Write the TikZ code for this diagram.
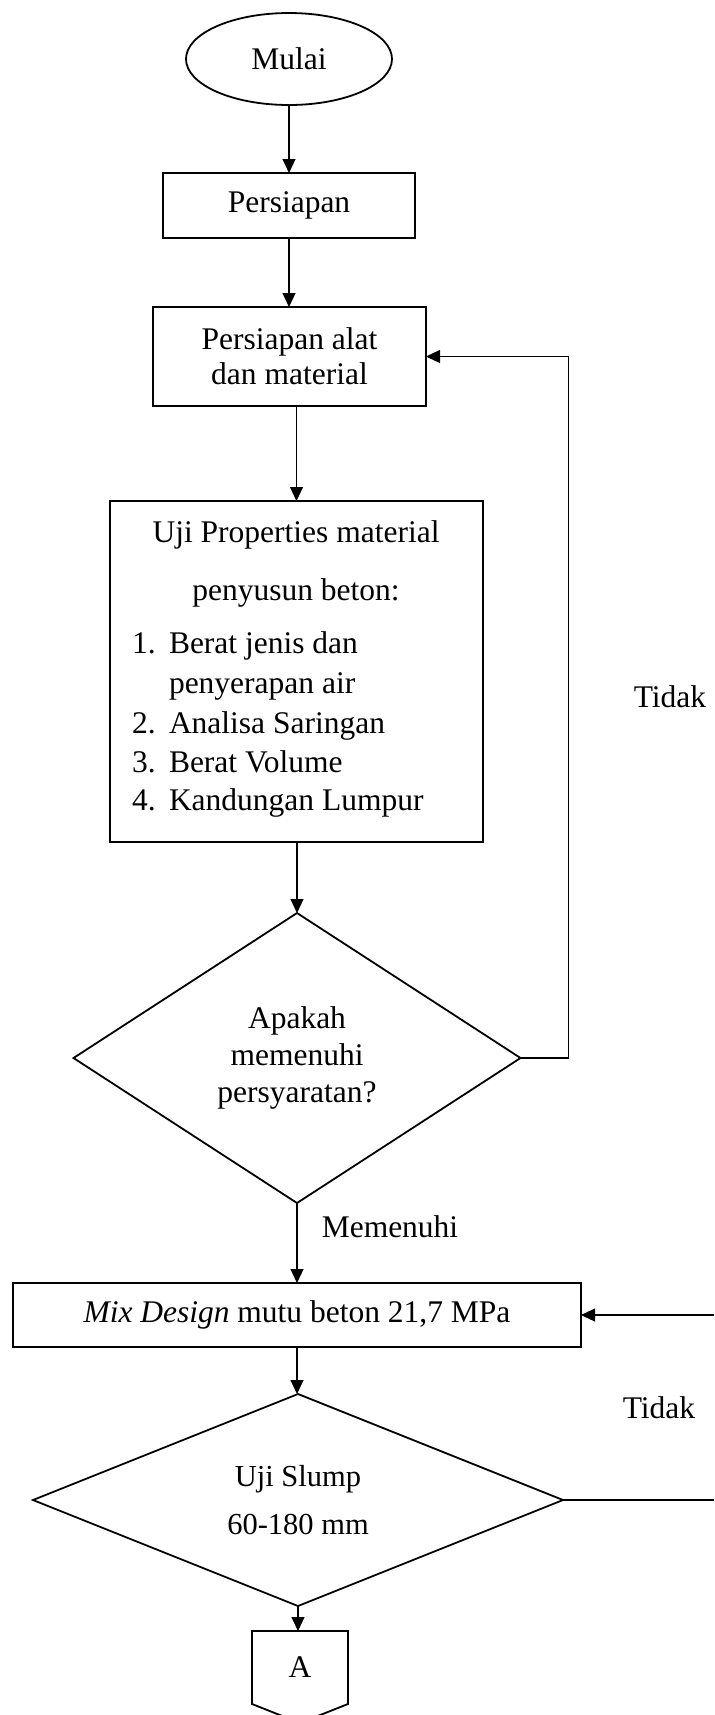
\documentclass[tikz,border=0pt]{standalone}
\usepackage{fontspec}
\setmainfont{Liberation Serif}
\usetikzlibrary{shapes.geometric,arrows.meta,calc}
\begin{document}
\begin{tikzpicture}[x=0.5pt,y=-0.5pt,
  every node/.style={font=\fontsize{15.75}{18.5}\selectfont, inner sep=0pt, outer sep=0pt},
  box/.style={draw, line width=0.9pt, rectangle},
  dia/.style={draw, line width=0.9pt, diamond, align=center},
  conn/.style={line width=0.55pt, -{Triangle[length=7pt,width=6.5pt]}},
  plainline/.style={line width=0.55pt},
  txt/.style={anchor=base}
]
\useasboundingbox (0,0) rectangle (714,1715);

% nodes
\node[draw, ellipse, line width=0.9pt, minimum width=103pt, minimum height=46pt] (mulai) at (289,59) {Mulai};
\node[box, minimum width=126pt, minimum height=32.5pt] (persiapan) at (289,205.5) {Persiapan};
\node[box, minimum width=136.5pt, minimum height=49.5pt, align=center,
      font=\fontsize{15.75}{17.5}\selectfont] (alat) at (289.5,356.5) {Persiapan alat\\dan material};
\node[box, minimum width=186.5pt, minimum height=170.5pt] (uji) at (296.5,671.5) {};
\node[txt] (u1) at (296,542) {Uji Properties material};
\node[txt] (u2) at (296,600) {penyusun beton:};
\node[txt, anchor=base west] (n1) at (132,653) {1.};
\node[txt, anchor=base west] (t1) at (169,653) {Berat jenis dan};
\node[txt, anchor=base west] (t1b) at (169,693) {penyerapan air};
\node[txt, anchor=base west] (n2) at (132,733) {2.};
\node[txt, anchor=base west] (t2) at (169,733) {Analisa Saringan};
\node[txt, anchor=base west] (n3) at (132,772) {3.};
\node[txt, anchor=base west] (t3) at (169,772) {Berat Volume};
\node[txt, anchor=base west] (n4) at (132,810) {4.};
\node[txt, anchor=base west] (t4) at (169,810) {Kandungan Lumpur};

\node[dia, aspect=1.5, minimum width=223.5pt, minimum height=145pt] (d1) at (297,1058) {Apakah\\memenuhi\\persyaratan?};
\node[box, minimum width=284pt, minimum height=32pt] (mix) at (297,1315) {\textit{Mix Design} mutu beton 21,7 MPa};
\node[dia, aspect=2.5, minimum width=265pt, minimum height=106pt,
      font=\fontsize{15.25}{24}\selectfont] (d2) at (298,1500) {Uji Slump\\60-180 mm};
\node[minimum width=48pt, minimum height=36.5pt] (A) at (300,1667.5) {A};
\draw[line width=0.9pt] (A.north west) -- (A.north east) -- (A.south east) -- ($(A.south)+(0,19)$) -- (A.south west) -- cycle;

% labels
\node (tidak1) at (670,697) {Tidak};
\node (memenuhi) at (390,1227) {Memenuhi};
\node (tidak2) at (659,1408) {Tidak};

% connectors
\draw[conn] (mulai.south) -- (persiapan.north);
\draw[conn] (persiapan.north |- persiapan.south) -- (persiapan.north |- alat.north);
\draw[conn] (uji.north |- alat.south) -- (uji.north);
\draw[conn] (uji.south -| d1.north) -- (d1.north);
\draw[conn] (d1.east) -- ++(48,0) |- (alat.east);
\draw[conn] (d1.south) -- (d1.south |- mix.north);
\draw[conn] (d1.south |- mix.south) -- (d1.south |- d2.north);
\coordinate (r1) at (714,1315);
\coordinate (r2) at (714,1500);
\draw[conn] (r1) -- (mix.east);
\draw[plainline] (d2.east) -- (r2);
\draw[conn] (d2.south) -- (d2.south |- A.north);
\end{tikzpicture}
\end{document}
